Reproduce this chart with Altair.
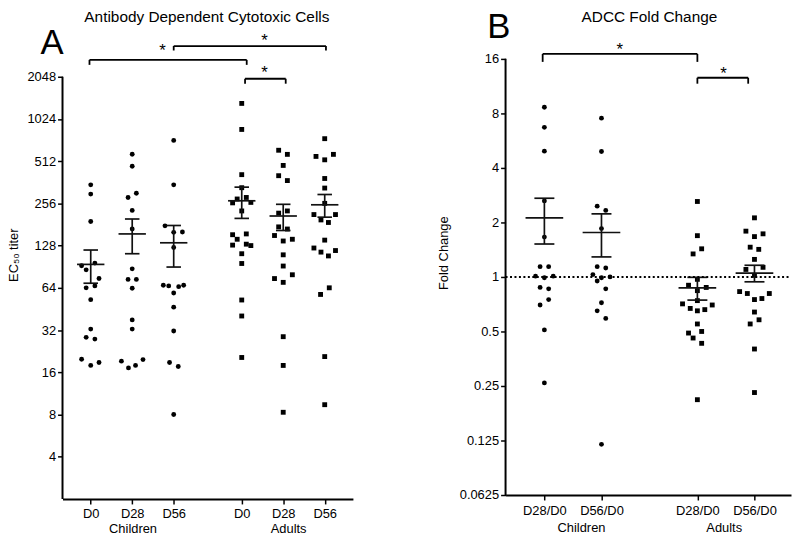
import altair as alt
import pandas as pd

FONT = "Liberation Sans"

# ---------------- Panel A: Antibody Dependent Cytotoxic Cells (EC50 titer) ----------------
A_GROUP = ["Children", "Children", "Children", "Adults", "Adults", "Adults"]
A_DAY = ["D0", "D28", "D56", "D0", "D28", "D56"]
A_POS = [0.68, 1.68, 2.68, 4.32, 5.32, 6.32]
A_VALUES = [
    [347, 298, 190, 92, 86, 96, 74.6, 64, 66, 52.7, 32.5, 28.4, 27.6, 19.8, 17.9, 18.8],
    [573, 471, 302, 282, 228, 168, 87.4, 73.5, 73.5, 63.6, 37.8, 32.5, 19.2, 17.2, 17.9, 19.7],
    [719, 347, 177, 159, 160, 124, 66.8, 66, 65.2, 66.8, 58.8, 46.6, 31.5, 18.8, 17.6, 8],
    [1320, 861, 410, 331, 275, 282, 258, 260, 226, 153, 155, 142, 129, 131, 128, 112, 95.4, 52.4, 40.3, 20.4],
    [612, 572, 477, 403, 372, 226, 218, 174, 168, 151, 138, 142, 110, 91.5, 79.3, 74.5, 70, 28.7, 17.9, 8.3],
    [740, 553, 523, 572, 385, 329, 256, 213, 213, 195, 187, 140, 123, 115, 108, 118, 64, 57.4, 20.7, 9.4],
]
A_JITTER = [
    [0, 0, 0, -0.22, -0.11, 0.1, 0.2, -0.11, 0.1, 0, 0, -0.11, 0.1, -0.22, 0, 0.2],
    [0, 0, 0.1, -0.1, 0, 0, 0, -0.1, 0.1, 0, 0, 0, -0.26, -0.09, 0.08, 0.26],
    [0, 0, -0.21, 0, 0.21, 0, -0.25, -0.12, 0.12, 0.24, 0, 0, 0, -0.1, 0.11, 0],
    [0, 0, 0, 0, -0.11, 0.11, -0.22, 0.22, 0, -0.22, 0.11, -0.11, -0.22, 0.11, 0.22, 0, 0, 0, 0, 0],
    [-0.11, 0.1, 0, -0.11, 0.1, 0.1, -0.11, -0.11, 0.1, -0.21, 0, 0.22, 0, 0, 0.22, -0.21, 0, 0, 0, 0],
    [0, -0.21, 0, 0.21, 0, 0, 0, -0.26, 0.26, -0.09, 0.09, 0, -0.26, -0.09, 0.09, 0.26, 0.11, -0.1, 0, 0],
]
A_MEAN = [94, 155, 134, 267, 208, 250]
A_SEM = [25, 43, 44, 67, 44, 46]
A_TICKS = [4, 8, 16, 32, 64, 128, 256, 512, 1024, 2048]
A_GROUP_LABEL_X = [1.70, 5.45]

# ---------------- Panel B: ADCC Fold Change ----------------
B_GROUP = ["Children", "Children", "Adults", "Adults"]
B_RATIO = ["D28/D0", "D56/D0", "D28/D0", "D56/D0"]
B_POS = [0.68, 1.68, 3.36, 4.36]
B_VALUES = [
    [8.65, 6.7, 4.95, 2.63, 1.66, 1.14, 1.14, 1.01, 0.99, 1.01, 0.875, 0.86, 0.75, 0.70, 0.51, 0.26],
    [7.53, 4.93, 2.46, 2.33, 1.85, 1.14, 1.12, 1.03, 0.99, 1.0, 0.95, 0.86, 0.72, 0.65, 0.59, 0.119],
    [2.61, 1.69, 1.43, 1.34, 0.97, 0.90, 0.875, 0.84, 0.74, 0.71, 0.67, 0.65, 0.66, 0.70, 0.55, 0.49, 0.50, 0.46, 0.43, 0.21],
    [2.12, 1.79, 1.67, 1.73, 1.46, 1.42, 1.25, 1.13, 1.10, 1.02, 0.83, 0.81, 0.75, 0.76, 0.81, 0.64, 0.58, 0.55, 0.40, 0.23],
]
B_JITTER = [
    [0, 0, 0, 0, 0, -0.075, 0.075, -0.155, 0, 0.155, -0.075, 0.075, 0.075, -0.075, 0, 0],
    [0, 0, -0.075, 0.075, 0, -0.075, 0.075, -0.15, 0, 0.15, -0.075, 0.075, 0, -0.075, 0.075, 0],
    [0, 0, 0.075, -0.075, 0, -0.155, 0.155, 0, 0, -0.26, -0.125, 0, 0.13, 0.26, 0, -0.155, 0.075, -0.075, 0.075, 0],
    [0, -0.15, 0, 0.15, -0.075, 0.075, 0, 0.15, -0.15, 0, -0.26, -0.125, 0, 0.13, 0.26, 0, 0.08, -0.075, 0, 0],
]
B_MEAN = [2.12, 1.76, 0.87, 1.05]
B_SEM = [0.60, 0.47, 0.125, 0.11]
B_TICKS = [0.0625, 0.125, 0.25, 0.5, 1, 2, 4, 8, 16]
B_GROUP_LABEL_X = [1.33, 3.83]


def points_df(groups, labels, pos, values, jitter):
    rows = []
    for g, l, p, vals, jit in zip(groups, labels, pos, values, jitter):
        for v, j in zip(vals, jit):
            rows.append({"group": g, "label": l, "x": p + j, "value": v})
    return pd.DataFrame(rows)


def label_expr(positions, labels):
    expr = "''"
    for p, l in reversed(list(zip(positions, labels))):
        expr = f"abs(datum.value - {p}) < 0.01 ? '{l}' : ({expr})"
    return expr


def x_axis(pos, labels, pad):
    return alt.Axis(values=pos, labelExpr=label_expr(pos, labels), title=None, grid=False,
                    domain=True, domainColor="black", domainWidth=2, ticks=True,
                    tickColor="black", tickWidth=1.5, tickSize=5, labelFont=FONT,
                    labelFontSize=13, labelColor="black", labelPadding=pad,
                    labelFlush=False, labelOverlap=False)


def y_axis(ticks, title, tpad):
    return alt.Axis(values=ticks, labelExpr="'' + datum.value", title=title, titleFont=FONT,
                    titleFontSize=13, titleFontWeight="normal", titleColor="black",
                    titlePadding=tpad, domain=False, grid=False, tickColor="black",
                    tickWidth=1.5, tickSize=5, labelPadding=2, labelFont=FONT,
                    labelFontSize=13, labelColor="black", labelOverlap=False)


def make_panel(pts, pos, mean, sem, xs, ys, xax, yax, ymin, ytop, W, H,
               title, title_x, letter, letter_x, glabels_x, glabel_y, brackets, ref=None):
    X = lambda f: alt.X(f, scale=xs, axis=xax)
    Y = lambda f: alt.Y(f, scale=ys, axis=yax)

    pts_layer = alt.Chart(pts).mark_point(filled=True, opacity=1, color="black", size=24).encode(
        x=X("x:Q"), y=Y("value:Q"),
        shape=alt.Shape("group:N", scale=alt.Scale(domain=["Children", "Adults"], range=["circle", "square"]), legend=None),
    )
    summ = pd.DataFrame({"pos": pos, "mean": mean, "sem": sem})
    sb = alt.Chart(summ).transform_calculate(
        lo="datum.mean - datum.sem", hi="datum.mean + datum.sem",
        ml="datum.pos - 0.33", mr="datum.pos + 0.33",
        cl="datum.pos - 0.175", cr="datum.pos + 0.175")
    rk = dict(color="#111111", strokeWidth=1.7)
    mean_line = sb.mark_rule(**rk).encode(x=X("ml:Q"), x2="mr:Q", y=Y("mean:Q"))
    stem = sb.mark_rule(**rk).encode(x=X("pos:Q"), y=Y("lo:Q"), y2="hi:Q")
    cap_hi = sb.mark_rule(**rk).encode(x=X("cl:Q"), x2="cr:Q", y=Y("hi:Q"))
    cap_lo = sb.mark_rule(**rk).encode(x=X("cl:Q"), x2="cr:Q", y=Y("lo:Q"))
    ydom = alt.Chart(pd.DataFrame({"x": [0], "y1": [ymin], "y2": [ytop]})).mark_rule(
        color="black", strokeWidth=2).encode(x=X("x:Q"), y=Y("y1:Q"), y2="y2:Q")
    ttl = alt.Chart(pd.DataFrame({"x": [title_x], "t": [title]})).mark_text(
        fontSize=15.5, font=FONT, baseline="top", align="center", color="black").encode(
        x=X("x:Q"), y=alt.value(0), text="t:N")
    let = alt.Chart(pd.DataFrame({"x": [letter_x], "t": [letter[0]]})).mark_text(
        fontSize=35, font=FONT, baseline=letter[2], align="center", color="black").encode(
        x=X("x:Q"), y=alt.value(letter[1]), text="t:N")
    grp = alt.Chart(pd.DataFrame({"x": glabels_x, "t": ["Children", "Adults"]})).mark_text(
        fontSize=13, font=FONT, baseline="middle", align="center", color="black").encode(
        x=X("x:Q"), y=alt.value(glabel_y), text="t:N")

    layers = [pts_layer, mean_line, stem, cap_hi, cap_lo, ydom, ttl, let, grp]
    if ref is not None:
        layers.append(alt.Chart(pd.DataFrame({"x1": [ref[0]], "x2": [ref[1]], "y": [ref[2]]})).mark_rule(
            color="black", strokeWidth=2, strokeDash=[2, 2.5]).encode(x=X("x1:Q"), x2="x2:Q", y=Y("y:Q")))

    kw = dict(color="black", strokeWidth=1.8)
    for (x1, x2, yb, leg, sx, sy) in brackets:
        d = alt.Chart(pd.DataFrame({"x1": [x1], "x2": [x2], "sx": [sx], "t": ["*"]}))
        layers.append(d.mark_rule(**kw).encode(x=X("x1:Q"), x2="x2:Q", y=alt.value(yb)))
        layers.append(d.mark_rule(**kw).encode(x=X("x1:Q"), y=alt.value(yb), y2=alt.value(yb + leg)))
        layers.append(d.mark_rule(**kw).encode(x=X("x2:Q"), y=alt.value(yb), y2=alt.value(yb + leg)))
        layers.append(d.mark_text(fontSize=17, font=FONT, baseline="alphabetic", align="center",
                                  color="black").encode(x=X("sx:Q"), y=alt.value(sy + 10), text="t:N"))
    return alt.layer(*layers).properties(width=W, height=H)


# ----- Panel A -----
a_pts = points_df(A_GROUP, A_DAY, A_POS, A_VALUES, A_JITTER)
a_xs = alt.Scale(domain=[0, 7], nice=False, zero=False)
a_ys = alt.Scale(type="log", base=2, domain=[2, 2 ** 12.57], nice=False, zero=False)
A_BRACKETS = [(0.65, 4.44, 50, 5, 2.41, 36), (2.68, 6.35, 36, 4.5, 4.87, 26), (4.40, 5.38, 69, 5, 4.87, 58)]
panel_a = make_panel(a_pts, A_POS, A_MEAN, A_SEM, a_xs, a_ys,
                     x_axis(A_POS, A_DAY, 4), y_axis(A_TICKS, "EC₅₀ titer", 6),
                     2, 2048, 293, 493,
                     "Antibody Dependent Cytotoxic Cells", 3.48, ("A", 44, "alphabetic"), -0.25,
                     A_GROUP_LABEL_X, 523, A_BRACKETS)

# ----- Panel B -----
b_pts = points_df(B_GROUP, B_RATIO, B_POS, B_VALUES, B_JITTER)
b_xs = alt.Scale(domain=[0, 5], nice=False, zero=False)
b_ys = alt.Scale(type="log", base=2, domain=[0.0625, 2 ** 4.89], nice=False, zero=False)
B_BRACKETS = [(0.65, 3.36, 44, 8, 2.0, 35), (3.36, 4.25, 68, 6, 3.82, 59)]
panel_b = make_panel(b_pts, B_POS, B_MEAN, B_SEM, b_xs, b_ys,
                     x_axis(B_POS, B_RATIO, 5), y_axis(B_TICKS, "Fold Change", 9),
                     0.0625, 16, 288, 489,
                     "ADCC Fold Change", 2.52, ("B", 0, "top"), -0.12,
                     B_GROUP_LABEL_X, 522, B_BRACKETS, ref=(0, 5, 1))

chart = alt.hconcat(panel_a, panel_b, spacing=85).properties(
    padding={"left": 0, "top": 0, "right": 0, "bottom": 0}
).configure_view(strokeWidth=0)

chart.save("out.html", embed_options={"renderer": "svg", "actions": False})
